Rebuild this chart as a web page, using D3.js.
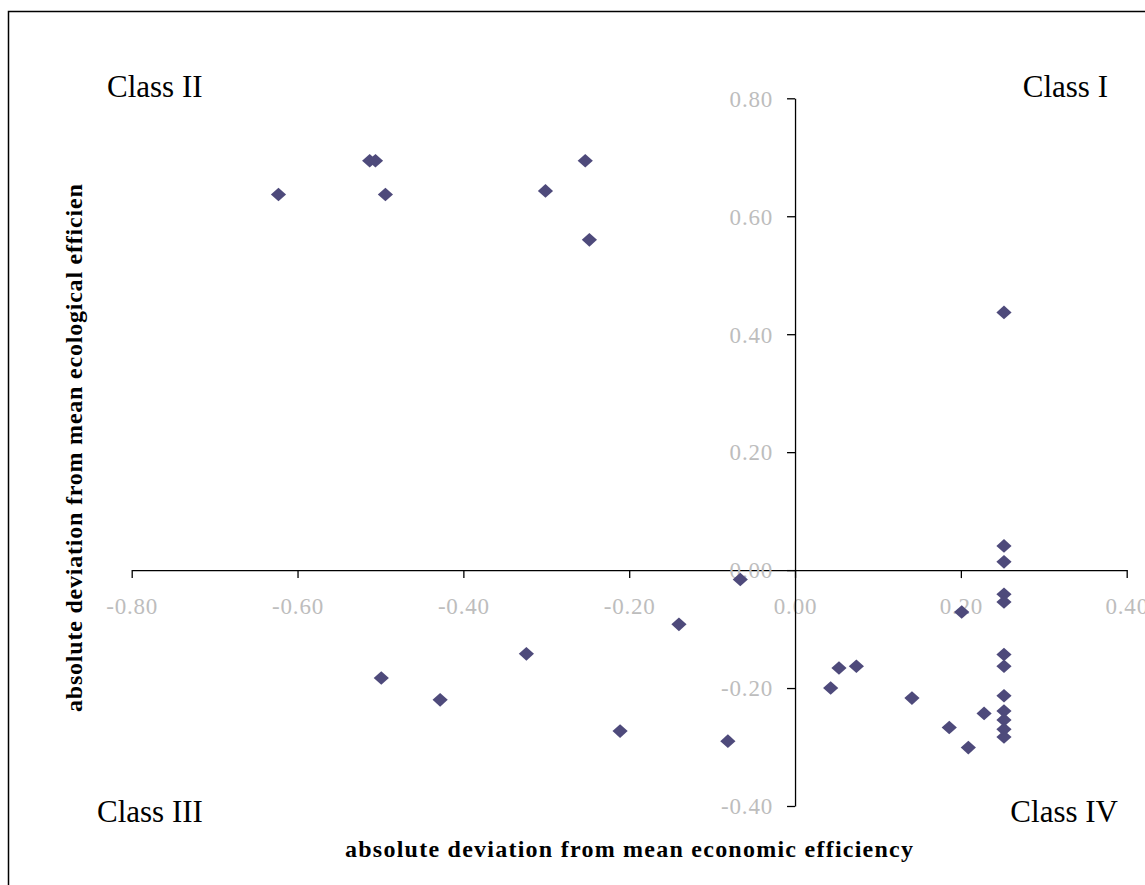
<!DOCTYPE html>
<html>
<head>
<meta charset="utf-8">
<script src="https://cdn.jsdelivr.net/npm/d3@7"></script>
<style>
  body { margin: 0; background: #fff; }
  svg { display: block; }
</style>
</head>
<body>
<div id="chart"></div>
<script>
// --- data
var econ = [-0.623, -0.513, -0.506, -0.494, -0.301, -0.253, -0.248,
            0.252, 0.252, 0.252, 0.252, 0.252, 0.252, 0.252, 0.252, 0.252, 0.252, 0.252, 0.252,
            0.201, -0.066, -0.140, -0.324, -0.499, -0.428, -0.211, -0.081,
            0.043, 0.053, 0.074, 0.141, 0.186, 0.209, 0.228];
var ecol = [0.637, 0.694, 0.694, 0.637, 0.643, 0.694, 0.560,
            0.437, 0.041, 0.014, -0.041, -0.054, -0.143, -0.163, -0.213, -0.239, -0.254, -0.270, -0.283,
            -0.071, -0.016, -0.092, -0.142, -0.183, -0.220, -0.273, -0.290,
            -0.200, -0.166, -0.163, -0.217, -0.267, -0.301, -0.243];
var xTicks = [-0.8, -0.6, -0.4, -0.2, 0, 0.2, 0.4];
var yTicks = [-0.4, -0.2, 0, 0.2, 0.4, 0.6, 0.8];
var classLabels = ['Class I', 'Class II', 'Class III', 'Class IV'];
var xTitle = 'absolute deviation from mean economic efficiency';
var yTitle = 'absolute deviation from mean ecological efficiency';

var W = 1145, H = 885;
var serif = '"Liberation Serif", "Times New Roman", serif';

var svg = d3.select('#chart').append('svg')
  .attr('width', W)
  .attr('height', H);

// outer frame (runs off the right and bottom edge)
svg.append('rect')
  .attr('x', 8.5).attr('y', 11.5)
  .attr('width', 1300).attr('height', 1000)
  .attr('fill', 'none')
  .attr('stroke', '#000')
  .attr('stroke-width', 1.5);

var x = d3.scaleLinear().domain([-0.8, 0.4]).range([131.7, 1126.7]);
var y = d3.scaleLinear().domain([-0.4, 0.8]).range([806, 98.3]);

var fmt = function(d) { return d.toFixed(2); };

// x axis crosses at y = 0
var gx = svg.append('g')
  .attr('transform', 'translate(0,' + y(0) + ')')
  .call(d3.axisBottom(x).tickValues(xTicks).tickFormat(fmt).tickSize(8).tickSizeOuter(0));

// y axis crosses at x = 0
var gy = svg.append('g')
  .attr('transform', 'translate(' + x(0) + ',0)')
  .call(d3.axisLeft(y).tickValues(yTicks).tickFormat(fmt).tickSize(8).tickSizeOuter(0));

[gx, gy].forEach(function(g) {
  g.select('.domain').attr('stroke', '#000').attr('stroke-width', 1.3);
  g.selectAll('.tick line').attr('stroke', '#000').attr('stroke-width', 1.3);
  g.selectAll('.tick text')
    .attr('fill', '#bdbdbd')
    .style('font-family', serif)
    .style('font-size', '23px')
    .style('letter-spacing', '0.8px');
});
gx.selectAll('.tick text').attr('y', 36).attr('dy', '0.35em');
gy.selectAll('.tick text').attr('x', -22).attr('dy', '0.34em');

// points
svg.append('g').selectAll('path')
  .data(econ.map(function(d, i) { return { ex: d, ey: ecol[i] }; }))
  .enter()
  .append('path')
  .attr('d', 'M0,-6.8L7.6,0L0,6.8L-7.6,0Z')
  .attr('fill', '#4e4a7b')
  .attr('transform', function(d) { return 'translate(' + x(d.ex) + ',' + y(d.ey) + ')'; });

// class labels in the corners
var classPos = [
  { x: 1108, y: 97, anchor: 'end' },
  { x: 107, y: 97, anchor: 'start' },
  { x: 97, y: 822, anchor: 'start' },
  { x: 1118, y: 822, anchor: 'end' }
];
svg.append('g').selectAll('text')
  .data(classLabels)
  .enter()
  .append('text')
  .attr('x', function(d, i) { return classPos[i].x; })
  .attr('y', function(d, i) { return classPos[i].y; })
  .attr('text-anchor', function(d, i) { return classPos[i].anchor; })
  .style('font-family', serif)
  .style('font-size', '31px')
  .attr('fill', '#000')
  .text(function(d) { return d; });

// axis titles
svg.append('text')
  .attr('x', 345).attr('y', 857)
  .attr('textLength', 568)
  .attr('lengthAdjust', 'spacing')
  .style('font-family', serif)
  .style('font-size', '24px')
  .style('font-weight', 'bold')
  .text(xTitle);

svg.append('clipPath').attr('id', 'ytclip')
  .append('rect').attr('x', 0).attr('y', 183).attr('width', 120).attr('height', 700);

svg.append('g').attr('clip-path', 'url(#ytclip)')
  .append('text')
  .attr('transform', 'translate(82,712) rotate(-90)')
  .attr('textLength', 552)
  .attr('lengthAdjust', 'spacing')
  .style('font-family', serif)
  .style('font-size', '24px')
  .style('font-weight', 'bold')
  .text(yTitle);
</script>
</body>
</html>
